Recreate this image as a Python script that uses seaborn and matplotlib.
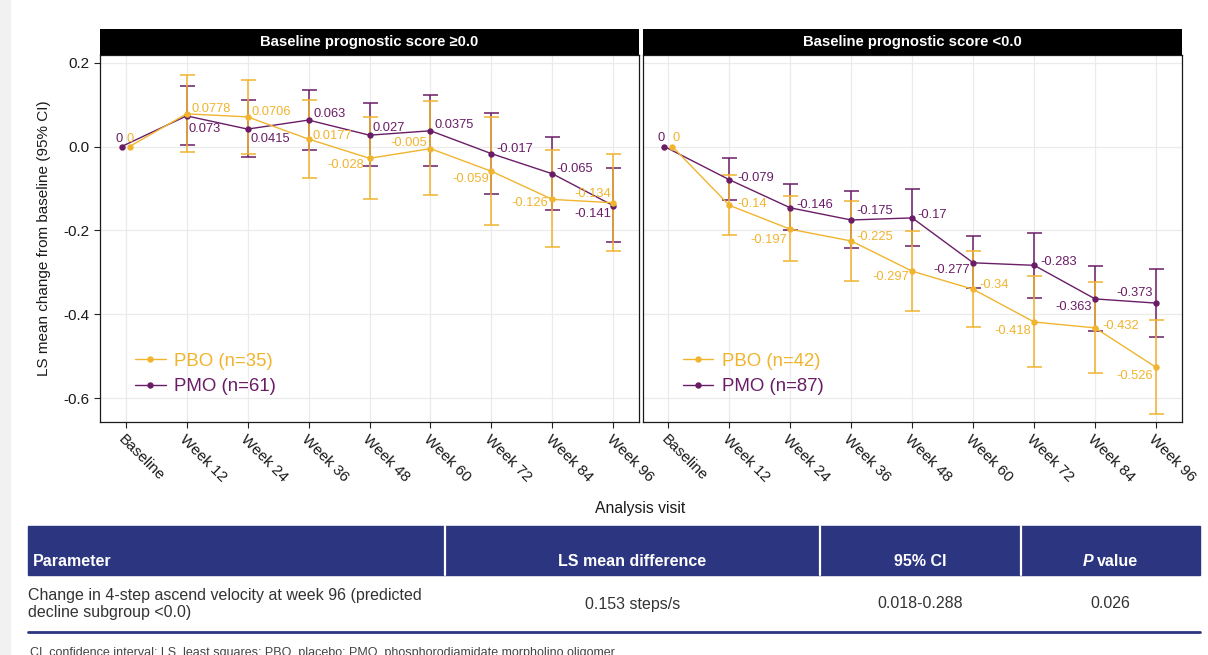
import numpy as np
import pandas as pd
import matplotlib
matplotlib.use("Agg")
import matplotlib.pyplot as plt
from matplotlib.lines import Line2D
from matplotlib.patches import Rectangle
from matplotlib.ticker import FormatStrFormatter
import seaborn as sns

# ---------------------------------------------------------------- data
VISITS = ["Baseline", "Week 12", "Week 24", "Week 36", "Week 48",
          "Week 60", "Week 72", "Week 84", "Week 96"]
PANEL_TITLES = ["Baseline prognostic score \u22650.0",
                "Baseline prognostic score <0.0"]
ARMS = ["PBO", "PMO"]
N_POS = [35, 61]   # PBO, PMO in the score >= 0 subgroup
N_NEG = [42, 87]   # PBO, PMO in the score < 0 subgroup

# Baseline prognostic score >= 0.0
PBO_MEAN_POS = [0, 0.0778, 0.0706, 0.0177, -0.028, -0.005, -0.059, -0.126, -0.134]
PBO_LOW_POS = [0, -0.013, -0.019, -0.076, -0.126, -0.116, -0.187, -0.240, -0.250]
PBO_HIGH_POS = [0, 0.170, 0.159, 0.112, 0.070, 0.108, 0.070, -0.009, -0.018]
PMO_MEAN_POS = [0, 0.073, 0.0415, 0.063, 0.027, 0.0375, -0.017, -0.065, -0.141]
PMO_LOW_POS = [0, 0.004, -0.026, -0.008, -0.047, -0.047, -0.113, -0.151, -0.228]
PMO_HIGH_POS = [0, 0.143, 0.110, 0.135, 0.103, 0.123, 0.081, 0.023, -0.051]

# Baseline prognostic score < 0.0
PBO_MEAN_NEG = [0, -0.14, -0.197, -0.225, -0.297, -0.34, -0.418, -0.432, -0.526]
PBO_LOW_NEG = [0, -0.210, -0.273, -0.320, -0.392, -0.429, -0.526, -0.539, -0.637]
PBO_HIGH_NEG = [0, -0.067, -0.118, -0.129, -0.201, -0.249, -0.308, -0.322, -0.413]
PMO_MEAN_NEG = [0, -0.079, -0.146, -0.175, -0.17, -0.277, -0.283, -0.363, -0.373]
PMO_LOW_NEG = [0, -0.128, -0.200, -0.241, -0.237, -0.338, -0.360, -0.439, -0.453]
PMO_HIGH_NEG = [0, -0.028, -0.090, -0.107, -0.101, -0.213, -0.205, -0.285, -0.292]

Y_TICKS = [-0.6, -0.4, -0.2, 0.0, 0.2]

TABLE_HEADERS = ["Parameter", "LS mean difference", "95% CI", "P value"]
TABLE_ROW = ["Change in 4-step ascend velocity at week 96 (predicted\ndecline subgroup <0.0)",
             "0.153 steps/s", "0.018-0.288", "0.026"]
FOOTNOTE = ("CI, confidence interval; LS, least squares; PBO, placebo; "
            "PMO, phosphorodiamidate morpholino oligomer.")

# ---------------------------------------------------------------- style
PBO_COLOR = "#F1B42E"
PMO_COLOR = "#6A1D66"
NAVY = "#2C3580"
GRID = "#EBEBEB"
BASELINE_DODGE = 0.065

# label placement per point: (horizontal anchor, dx px, dy px downward)
LAYOUT_POS = {
    "PBO": [("center", 1, -8), ("left", 5, -5), ("left", 4, -5), ("left", 4, -3),
            ("right", -5, 7), ("right", -3, -6), ("right", -2, 8),
            ("right", -4, 4), ("right", -2, -9)],
    "PMO": [("center", -3, -8), ("left", 2, 13), ("left", 3, 10), ("left", 5, -6),
            ("left", 3, -7), ("left", 4, -6), ("left", 5, -5),
            ("left", 4, -5), ("right", -2, 8)],
}
LAYOUT_NEG = {
    "PBO": [("center", 3.5, -9), ("left", 8, -1), ("right", -3, 11), ("left", 5, -4),
            ("right", -3, 6), ("left", 6, -4), ("right", -3, 9),
            ("left", 7, -2), ("right", -3, 9)],
    "PMO": [("center", -3.5, -9), ("left", 8, -2), ("left", 6, -3), ("left", 5, -9),
            ("left", 5, -3), ("right", -3, 7), ("left", 6, -3),
            ("right", -3, 8), ("right", -3, -10)],
}

sns.set_theme(style="white")
plt.rcParams["font.family"] = ["Liberation Sans", "DejaVu Sans"]
plt.rcParams["axes.unicode_minus"] = False

W, H = 1208, 655
fig = plt.figure(figsize=(W / 100, H / 100), dpi=100)
fig.patch.set_facecolor("white")


def fx(px):
    return px / W


def fy(py):
    return 1 - py / H


def draw_panel(ax, series, layout, title, counts, legend_x, show_y):
    colors = {"PBO": PBO_COLOR, "PMO": PMO_COLOR}
    base = np.arange(len(VISITS), dtype=float)
    frames = []
    for arm, sign in (("PMO", -1), ("PBO", 1)):
        x = base.copy()
        x[0] += sign * BASELINE_DODGE
        frames.append(pd.DataFrame({"x": x, "y": series[arm][0], "arm": arm}))
    df = pd.concat(frames, ignore_index=True)

    # vertical grid at categories, horizontal at ticks
    for xv in base:
        ax.axvline(xv, color=GRID, lw=0.9, zorder=0)
    for yv in Y_TICKS:
        ax.axhline(yv, color=GRID, lw=0.9, zorder=0)

    sns.lineplot(data=df, x="x", y="y", hue="arm", hue_order=["PMO", "PBO"],
                 palette=colors, marker="o", markersize=4.6, markeredgewidth=0,
                 linewidth=1.0, errorbar=None, legend=False, sort=True, ax=ax,
                 zorder=3)

    for arm in ("PMO", "PBO"):
        mean, low, high = (np.asarray(v, dtype=float) for v in series[arm])
        sub = df[df["arm"] == arm]
        xs = sub["x"].to_numpy()
        mask = high > low
        ax.errorbar(xs[mask], mean[mask],
                    yerr=[mean[mask] - low[mask], high[mask] - mean[mask]],
                    fmt="none", ecolor=colors[arm], elinewidth=1.1,
                    capsize=5.4, capthick=1.1, zorder=2)
        for xi, yi, (ha, dx, dy) in zip(xs, mean, layout[arm]):
            ax.annotate(f"{yi:g}", (xi, yi), xytext=(dx, -dy),
                        textcoords="offset pixels", ha=ha, va="center",
                        fontsize=9.3, color=colors[arm], zorder=5)

    ax.set_xlim(-0.42, len(VISITS) - 1 + 0.42)
    ax.set_ylim(-0.655, 0.218)
    ax.set_xticks(base)
    ax.set_xticklabels(VISITS, rotation=-45, ha="left", va="top",
                       rotation_mode="anchor", fontsize=11, color="#1a1a1a")
    ax.set_yticks(Y_TICKS)
    ax.yaxis.set_major_formatter(FormatStrFormatter("%.1f"))
    ax.tick_params(axis="both", length=4.3, width=0.8, pad=3.2,
                   color="#222222", labelsize=11, labelcolor="#1a1a1a",
                   bottom=True, left=show_y)
    if not show_y:
        ax.tick_params(axis="y", labelleft=False, left=False)
    ax.set_xlabel("")
    ax.set_ylabel("")
    for sp in ax.spines.values():
        sp.set_visible(True)
        sp.set_color("#1a1a1a")
        sp.set_linewidth(0.9)

    handles = [Line2D([], [], color=colors[a], marker="o", markersize=4.6,
                      markeredgewidth=0, lw=1.0) for a in ARMS]
    labels = [f"{a} (n={n})" for a, n in zip(ARMS, counts)]
    ax.legend(handles, labels, loc="upper left", bbox_to_anchor=(legend_x, 0.187),
              frameon=False, fontsize=13.4, handlelength=1.65,
              handletextpad=0.45, labelspacing=0.45, borderpad=0,
              borderaxespad=0, labelcolor=[colors[a] for a in ARMS])

    # facet strip
    pos = ax.get_position()
    strip = fig.add_axes([pos.x0, fy(54.5), pos.width, (54.5 - 29) / H])
    strip.set_facecolor("black")
    strip.set_xticks([])
    strip.set_yticks([])
    for sp in strip.spines.values():
        sp.set_visible(False)
    strip.text(0.5, 0.48, title, ha="center", va="center", color="white",
               fontsize=10.7, fontweight="bold", transform=strip.transAxes)


ax_bottom, ax_top = 421.5, 55
ax_left = fig.add_axes([fx(100), fy(ax_bottom), (639 - 100) / W, (ax_bottom - ax_top) / H])
ax_right = fig.add_axes([fx(642.7), fy(ax_bottom), (1181.7 - 642.7) / W, (ax_bottom - ax_top) / H])

series_pos = {"PBO": (PBO_MEAN_POS, PBO_LOW_POS, PBO_HIGH_POS),
              "PMO": (PMO_MEAN_POS, PMO_LOW_POS, PMO_HIGH_POS)}
series_neg = {"PBO": (PBO_MEAN_NEG, PBO_LOW_NEG, PBO_HIGH_NEG),
              "PMO": (PMO_MEAN_NEG, PMO_LOW_NEG, PMO_HIGH_NEG)}

draw_panel(ax_left, series_pos, LAYOUT_POS, PANEL_TITLES[0], N_POS, 0.065, True)
draw_panel(ax_right, series_neg, LAYOUT_NEG, PANEL_TITLES[1], N_NEG, 0.074, False)

fig.text(fx(44), fy((ax_bottom + ax_top) / 2), "LS mean change from baseline (95% CI)",
         rotation=90, ha="center", va="center", fontsize=11, color="#1a1a1a")
fig.text(fx(640), fy(508), "Analysis visit", ha="center", va="center",
         fontsize=11.3, color="#1a1a1a")

# left page margin
fig.add_artist(Rectangle((0, 0), fx(10), 1, transform=fig.transFigure,
                         color="#F1F1F1", zorder=0))

# ---------------------------------------------------------------- table
fig.add_artist(Rectangle((fx(28), fy(575)), fx(1200) - fx(28), (575 - 526) / H,
                         transform=fig.transFigure, color=NAVY, zorder=1))
for sx in (445, 820, 1021):
    fig.add_artist(Line2D([fx(sx), fx(sx)], [fy(526), fy(575)],
                          transform=fig.transFigure, color="white", lw=1.6, zorder=2))
col_centers = [None, 632.5, 920.5, 1110.5]
fig.text(fx(33), fy(561), TABLE_HEADERS[0], ha="left", va="center",
         color="white", fontsize=11.5, fontweight="bold", zorder=3)
fig.text(fx(col_centers[1]), fy(561), TABLE_HEADERS[1], ha="center", va="center",
         color="white", fontsize=11.5, fontweight="bold", zorder=3)
fig.text(fx(col_centers[2]), fy(561), TABLE_HEADERS[2], ha="center", va="center",
         color="white", fontsize=11.5, fontweight="bold", zorder=3)
p_word, rest = TABLE_HEADERS[3].split(" ", 1)
fig.text(fx(1093), fy(561), p_word, ha="right", va="center", color="white",
         fontsize=11.5, fontweight="bold", fontstyle="italic", zorder=3)
fig.text(fx(1097), fy(561), rest, ha="left", va="center", color="white",
         fontsize=11.5, fontweight="bold", zorder=3)

fig.text(fx(28), fy(604), TABLE_ROW[0], ha="left", va="center",
         fontsize=11.5, color="#333333", linespacing=1.22)
for cx, txt in zip(col_centers[1:], TABLE_ROW[1:]):
    fig.text(fx(cx), fy(604), txt, ha="center", va="center",
             fontsize=11.5, color="#333333")
fig.add_artist(Line2D([fx(28), fx(1200)], [fy(631.5), fy(631.5)],
                      transform=fig.transFigure, color=NAVY, lw=2.0))
fig.text(fx(30), fy(656), FOOTNOTE, ha="left", va="baseline",
         fontsize=9, color="#444444")

fig.savefig("out.png", dpi=100, facecolor="white")
